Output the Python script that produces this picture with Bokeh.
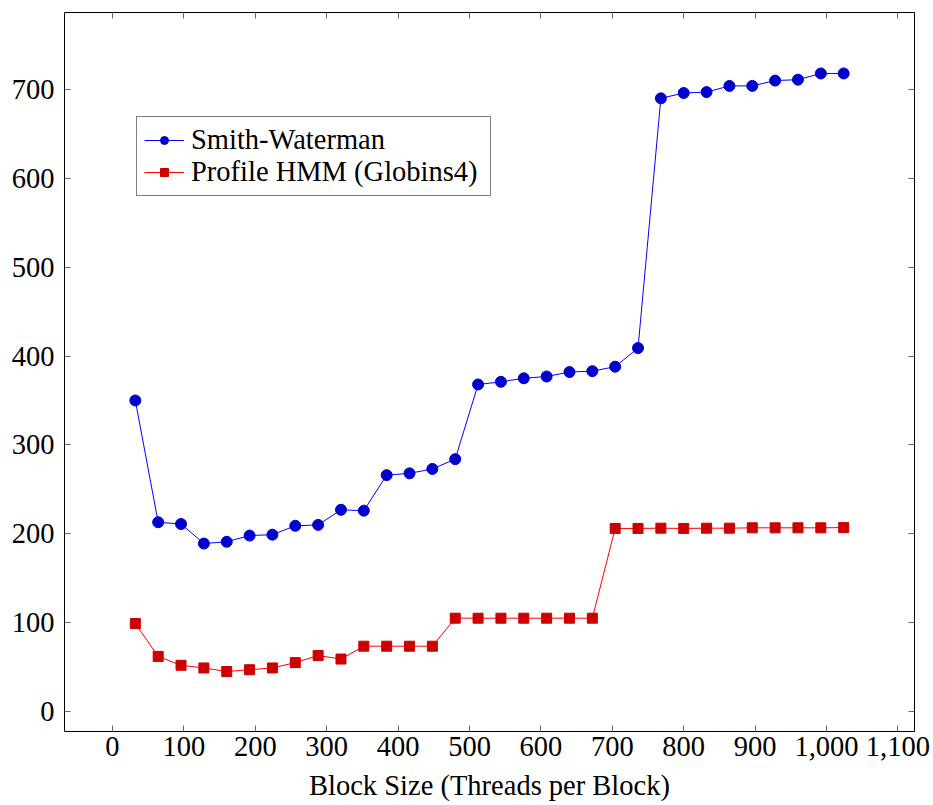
from bokeh.plotting import figure
from bokeh.models import LinearAxis, FixedTicker, NumeralTickFormatter, Range1d
from bokeh.embed import file_html
from bokeh.resources import INLINE

block_size = [32, 64, 96, 128, 160, 192, 224, 256, 288, 320, 352, 384, 416, 448, 480, 512,
              544, 576, 608, 640, 672, 704, 736, 768, 800, 832, 864, 896, 928, 960, 992, 1024]
smith_waterman = [350, 213, 211, 189, 191, 198, 199, 209, 210, 227, 226, 266, 268, 273, 284, 368,
                  371, 375, 377, 382, 383, 388, 409, 690, 696, 697, 704, 704, 710, 711, 718, 718]
profile_hmm = [99, 62, 52, 49, 45, 47, 49, 55, 63, 59, 73.5, 73.5, 73.5, 73.5, 105, 105,
               105, 105, 105, 105, 105, 206, 206, 206.3, 206, 206.3, 206.3, 206.7, 206.7, 206.7, 206.7, 207]
x_ticks = [0, 100, 200, 300, 400, 500, 600, 700, 800, 900, 1000, 1100]
y_ticks = [0, 100, 200, 300, 400, 500, 600, 700]

FONT = "Liberation Serif"
FS = "28.5px"

p = figure(width=933, height=805, output_backend="svg", toolbar_location=None,
           x_range=Range1d(-67.2, 1123.2), y_range=Range1d(-22.5, 786.6),
           min_border_left=64, min_border_right=19, min_border_top=12, min_border_bottom=74,
           x_axis_label="Block Size (Threads per Block)")
p.background_fill_color = "white"
p.border_fill_color = "white"
p.outline_line_color = "black"
p.outline_line_width = 1
p.xgrid.visible = False
p.ygrid.visible = False

def style_axis(ax, ticks, show_labels=True):
    ax.ticker = FixedTicker(ticks=ticks)
    ax.axis_line_color = None
    ax.major_tick_in = 6
    ax.major_tick_out = 0
    ax.major_tick_line_color = "#666666"
    ax.major_tick_line_width = 1
    ax.minor_tick_line_color = None
    if show_labels:
        ax.major_label_text_font = FONT
        ax.major_label_text_font_size = FS
        ax.major_label_text_color = "black"
    else:
        ax.major_label_text_color = None
        ax.major_label_text_font_size = "1px"
        ax.major_label_standoff = 0

style_axis(p.xaxis[0], x_ticks)
style_axis(p.yaxis[0], y_ticks)
p.xaxis[0].formatter = NumeralTickFormatter(format="0,0")
p.xaxis[0].major_label_standoff = 5
p.yaxis[0].major_label_standoff = 10
p.xaxis[0].axis_label_text_font = FONT
p.xaxis[0].axis_label_text_font_size = FS
p.xaxis[0].axis_label_text_font_style = "normal"
p.xaxis[0].axis_label_text_color = "black"
p.xaxis[0].axis_label_standoff = 11

top_axis = LinearAxis()
style_axis(top_axis, x_ticks, show_labels=False)
p.add_layout(top_axis, "above")
right_axis = LinearAxis()
style_axis(right_axis, y_ticks, show_labels=False)
p.add_layout(right_axis, "right")

p.line(block_size, smith_waterman, line_color="#0000ff", line_width=1, legend_label="Smith-Waterman")
p.scatter(block_size, smith_waterman, marker="circle", size=11, fill_color="#0000cc",
          line_color="#0000cc", legend_label="Smith-Waterman")
p.line(block_size, profile_hmm, line_color="#ff0000", line_width=1, legend_label="Profile HMM (Globins4)")
p.scatter(block_size, profile_hmm, marker="square", size=10, fill_color="#cc0000",
          line_color="#cc0000", legend_label="Profile HMM (Globins4)")

lg = p.legend[0]
lg.location = (72, 535)
lg.label_text_font = FONT
lg.label_text_font_size = FS
lg.label_text_color = "black"
lg.border_line_color = "black"
lg.border_line_width = 1
lg.background_fill_color = "white"
lg.background_fill_alpha = 1
lg.glyph_width = 40
lg.padding = 7
lg.spacing = 0
lg.margin = 0
lg.label_standoff = 7
lg.label_width = 292

open("out.html", "w").write(file_html(p, INLINE))
